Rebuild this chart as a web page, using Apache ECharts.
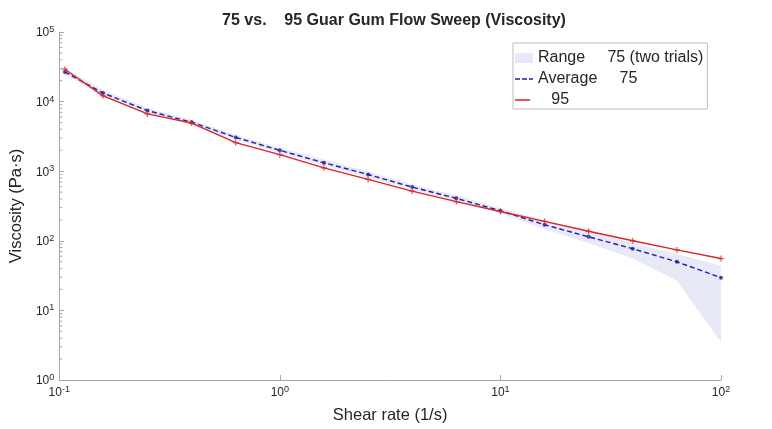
<!DOCTYPE html>
<html>
<head>
<meta charset="utf-8">
<script src="https://cdn.jsdelivr.net/npm/echarts@6/dist/echarts.min.js"></script>
<style>
  html, body { margin: 0; padding: 0; background: #ffffff; }
  #chart { width: 772px; height: 429px; }
</style>
</head>
<body>
<div id="chart"></div>
<script>
// Shear rates of the flow sweep (1/s)
const shearRate = [0.106, 0.158, 0.251, 0.398, 0.631, 1, 1.585, 2.512, 3.981, 6.31, 10, 15.85, 25.12, 39.81, 63.1, 100];

// 75 guar gum: average of two trials and the spread between them (Pa·s)
const avg75  = [26700, 13270, 7420, 5070, 3055, 1995, 1322, 897, 591, 408, 270, 170, 114, 77, 49.9, 29.5];
const low75  = [23950, 12020, 6875, 4635, 2833, 1848, 1206, 813, 548, 370, 249, 147, 93, 55, 26.7, 3.5];
const high75 = [30150, 14630, 8110, 5467, 3340, 2178, 1469, 990, 646, 450, 294, 198, 138, 93, 64.8, 43.7];

// 95 guar gum (Pa·s)
const visc95 = [29200, 12100, 6650, 4920, 2570, 1730, 1118, 762, 518, 366, 264, 190, 137, 100, 74, 55.6];

const FONT = '"Liberation Sans", Arial, Helvetica, sans-serif';
const AXIS_GRAY = '#a8a8a8';
const TEXT = '#262626';
const BLUE = '#1f1fa8';
const RED = '#dc2424';
const BAND = '#e7e9f7';

// legend glyphs: a dashed stroke and a solid stroke (18 x 10 box)
const DASHED_ICON = 'path://M0,4.3H5V5.7H0Z M7,4.3H12V5.7H7Z M14,4.3H18V5.7H14Z M0,0H0.01V10H0Z M17.99,0H18V10H17.99Z';
const SOLID_ICON = 'path://M0,4.3H15V5.7H0Z M0,0H0.01V10H0Z M17.99,0H18V10H17.99Z';

// minor ticks at 2..9 of every decade on the viscosity axis
const yMinor = [];
for (let p = 0; p < 5; p++) {
  for (let m = 2; m <= 9; m++) yMinor.push(m * Math.pow(10, p));
}

// decade labels written as 10 with a raised exponent
const supLabel = function (value) {
  const e = Math.round(Math.log10(value));
  return '{b|10}{s|' + e + '}';
};
const richSup = {
  b: { fontSize: 12, fontFamily: FONT, color: TEXT, verticalAlign: 'bottom' },
  s: { fontSize: 9, fontFamily: FONT, color: TEXT, verticalAlign: 'bottom', padding: [0, 0, 5, 0] }
};

const chart = echarts.init(document.getElementById('chart'), null, { renderer: 'canvas' });

chart.setOption({
  backgroundColor: '#ffffff',
  animation: false,
  title: {
    text: '75 vs.    95 Guar Gum Flow Sweep (Viscosity)',
    left: 394,
    top: 13,
    textAlign: 'center',
    padding: 0,
    textStyle: { fontFamily: FONT, fontWeight: 'bold', fontSize: 16, color: TEXT }
  },
  grid: { left: 56, right: 51, top: 32, bottom: 46, containLabel: false },
  legend: {
    orient: 'vertical',
    left: 513,
    top: 43,
    padding: [7, 4, 1, 2],
    itemGap: 5,
    itemWidth: 18,
    itemHeight: 10,
    backgroundColor: '#ffffff',
    borderColor: '#bdbdbd',
    borderWidth: 1,
    borderRadius: 0,
    textStyle: { fontFamily: FONT, fontSize: 16, lineHeight: 16, color: TEXT },
    data: [
      { name: 'Range     75 (two trials)', icon: 'rect' },
      { name: 'Average     75', icon: DASHED_ICON },
      { name: '   95', icon: SOLID_ICON }
    ]
  },
  xAxis: {
    type: 'log',
    logBase: 10,
    min: 0.1,
    max: 100,
    name: 'Shear rate (1/s)',
    nameLocation: 'middle',
    nameGap: 27,
    nameTextStyle: { fontFamily: FONT, fontSize: 16.5, color: TEXT },
    axisLine: { show: true, lineStyle: { color: AXIS_GRAY, width: 1 } },
    axisTick: { show: true, inside: true, length: 5, lineStyle: { color: AXIS_GRAY } },
    axisLabel: { formatter: supLabel, rich: richSup, margin: 5 },
    splitLine: { show: false },
    minorTick: { show: false }
  },
  yAxis: {
    type: 'log',
    logBase: 10,
    min: 1,
    max: 100000,
    name: 'Viscosity (Pa·s)',
    nameLocation: 'middle',
    nameGap: 29,
    nameTextStyle: { fontFamily: FONT, fontSize: 16.5, color: TEXT },
    axisLine: { show: true, lineStyle: { color: AXIS_GRAY, width: 1 } },
    axisTick: { show: true, inside: true, length: 5, lineStyle: { color: AXIS_GRAY } },
    axisLabel: { formatter: supLabel, rich: richSup, margin: 5 },
    splitLine: { show: false },
    minorTick: { show: false }
  },
  series: [
    {
      // min/max envelope of the two 75 trials
      name: 'Range     75 (two trials)',
      type: 'custom',
      itemStyle: { color: BAND },
      data: shearRate.map(function (x, i) { return [x, low75[i], high75[i]]; }),
      encode: { x: 0, y: [1, 2] },
      z: 1,
      renderItem: function (params, api) {
        if (params.dataIndex !== 0) return null;
        const pts = [];
        for (let i = 0; i < shearRate.length; i++) pts.push(api.coord([shearRate[i], high75[i]]));
        for (let i = shearRate.length - 1; i >= 0; i--) pts.push(api.coord([shearRate[i], low75[i]]));
        return {
          type: 'polygon',
          shape: { points: pts },
          style: { fill: BAND, stroke: null }
        };
      }
    },
    {
      // minor ticks of the log viscosity axis
      name: 'yMinorTicks',
      type: 'custom',
      silent: true,
      data: yMinor.map(function (v) { return [0.1, v]; }),
      z: 3,
      renderItem: function (params, api) {
        const p = api.coord([0.1, api.value(1)]);
        return {
          type: 'line',
          shape: { x1: p[0], y1: p[1], x2: p[0] + 3, y2: p[1] },
          style: { stroke: AXIS_GRAY, lineWidth: 1 }
        };
      }
    },
    {
      name: 'Average     75',
      type: 'line',
      data: shearRate.map(function (x, i) { return [x, avg75[i]]; }),
      symbol: 'none',
      lineStyle: { color: BLUE, width: 1.4, type: [5, 3] },
      itemStyle: { color: BLUE },
      z: 4
    },
    {
      name: 'avg75Markers',
      type: 'scatter',
      data: shearRate.map(function (x, i) { return [x, avg75[i]]; }),
      symbol: 'circle',
      symbolSize: 4,
      itemStyle: { color: BLUE },
      z: 5
    },
    {
      name: '   95',
      type: 'line',
      data: shearRate.map(function (x, i) { return [x, visc95[i]]; }),
      symbol: 'none',
      lineStyle: { color: RED, width: 1.4 },
      itemStyle: { color: RED },
      z: 6
    },
    {
      name: 'visc95Markers',
      type: 'scatter',
      data: shearRate.map(function (x, i) { return [x, visc95[i]]; }),
      symbol: 'path://M4,0H6V4H10V6H6V10H4V6H0V4H4Z',
      symbolSize: 6,
      itemStyle: { color: RED },
      z: 7
    }
  ]
});
</script>
</body>
</html>
